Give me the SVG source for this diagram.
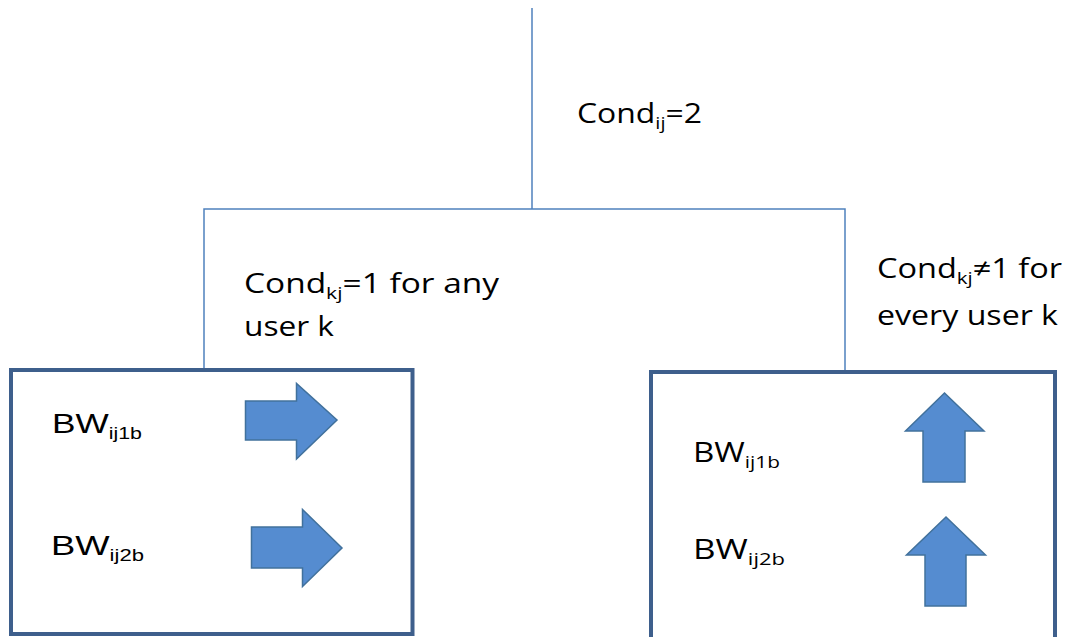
<svg xmlns="http://www.w3.org/2000/svg" width="1075" height="637" viewBox="0 0 1075 637">
<style>
.conn{fill:none;stroke:#4f81bd;stroke-width:1.5}
.box{fill:#ffffff;stroke:#3e5f8c;stroke-width:4}
.arrow{fill:#558cd0;stroke:#41719c;stroke-width:1.5;stroke-linejoin:miter}
.cal{font-family:"Open Sans","Liberation Sans",sans-serif;font-size:27px;fill:#000}
.ari{font-family:"Liberation Sans",Arial,sans-serif;font-size:28px;fill:#000}
.sub{font-size:17px}
</style>
<rect width="1075" height="637" fill="#ffffff"/>
<g id="connectors">
<path class="conn" d="M532,8 V209"/>
<path class="conn" d="M204,370 V209 H845 V372"/>
</g>
<g id="label-top">
<text class="cal" x="577" y="123" textLength="125" lengthAdjust="spacingAndGlyphs">Cond<tspan class="sub" dy="6">ij</tspan><tspan dy="-6">=2</tspan></text>
</g>
<g id="label-left">
<text class="cal" x="244" y="293" textLength="255" lengthAdjust="spacingAndGlyphs">Cond<tspan class="sub" dy="6">kj</tspan><tspan dy="-6">=1 for any</tspan></text>
<text class="cal" x="244" y="336" textLength="90" lengthAdjust="spacingAndGlyphs">user k</text>
</g>
<g id="label-right">
<text class="cal" x="877" y="278" textLength="185" lengthAdjust="spacingAndGlyphs">Cond<tspan class="sub" dy="6">kj</tspan><tspan dy="-6">≠1 for</tspan></text>
<text class="cal" x="877" y="325" textLength="181" lengthAdjust="spacingAndGlyphs">every user k</text>
</g>
<g id="box-left">
<rect class="box" x="11" y="370" width="401.5" height="264"/>
<text class="ari" x="52" y="433" textLength="90" lengthAdjust="spacingAndGlyphs">BW<tspan class="sub" dy="6">ij1b</tspan></text>
<text class="ari" x="51" y="555" textLength="93" lengthAdjust="spacingAndGlyphs">BW<tspan class="sub" dy="6">ij2b</tspan></text>
<polygon class="arrow" points="245.5,401 296.5,401 296.5,383.5 337,420 296.5,459 296.5,440 245.5,440"/>
<polygon class="arrow" points="251.5,527 302.5,527 302.5,509.5 342,548 302.5,586.5 302.5,568 251.5,568"/>
</g>
<g id="box-right">
<rect class="box" x="651" y="372" width="404" height="275"/>
<text class="cal" x="693" y="462" textLength="87" lengthAdjust="spacingAndGlyphs">BW<tspan class="sub" dy="6">ij1b</tspan></text>
<text class="cal" x="693" y="559" textLength="92" lengthAdjust="spacingAndGlyphs">BW<tspan class="sub" dy="6">ij2b</tspan></text>
<polygon class="arrow" points="944.5,393 984,431 965,431 965,482 923,482 923,431 905.5,431"/>
<polygon class="arrow" points="946,517 985.5,555 966,555 966,606 925,606 925,555 906.5,555"/>
</g>
</svg>
